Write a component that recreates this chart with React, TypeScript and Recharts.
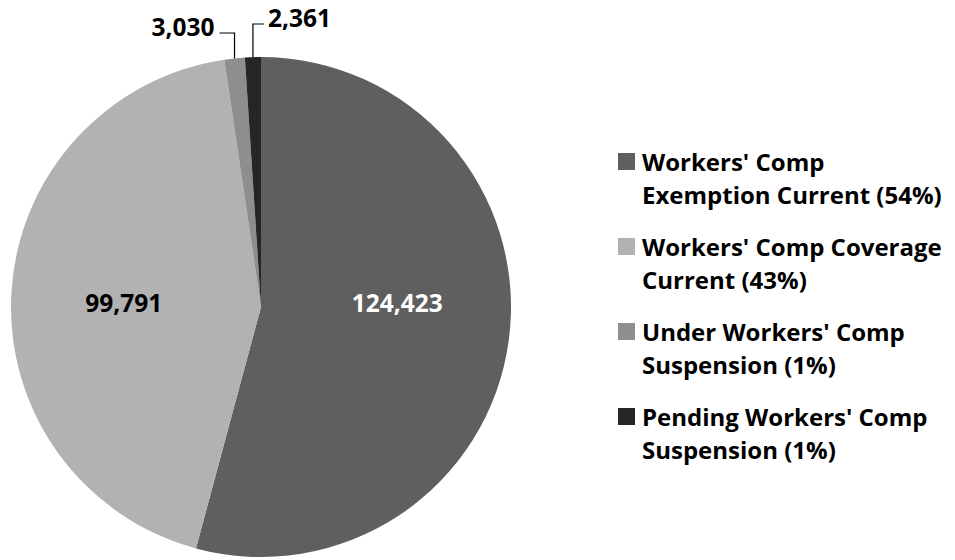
import { PieChart, Pie, Cell, Legend } from "recharts";

const NAMES = [
  "Workers' Comp Exemption Current",
  "Workers' Comp Coverage Current",
  "Under Workers' Comp Suspension",
  "Pending Workers' Comp Suspension",
];
const VALUES = [124423, 99791, 3030, 2361];
const COLORS = ["#5f5f5f", "#b2b2b2", "#8e8e8e", "#262626"];

const FONT = "'Open Sans', Lato, sans-serif";
const TOTAL = VALUES.reduce((s, v) => s + v, 0);
const data = NAMES.map((name, i) => ({ name, value: VALUES[i] }));

const RAD = Math.PI / 180;

function renderLabel(p: any) {
  const { cx, cy, midAngle, outerRadius, percent, value, index } = p;
  const cos = Math.cos(-midAngle * RAD);
  const sin = Math.sin(-midAngle * RAD);
  const text = Number(value).toLocaleString("en-US");
  if (percent > 0.05) {
    // big slices: value inside, on the row through the centre
    const x = cx + outerRadius * 0.55 * cos;
    return (
      <text
        x={x} y={cy - 5} textAnchor="middle" dominantBaseline="central"
        fill={index === 0 ? "#ffffff" : "#000000"}
        fontFamily={FONT} fontWeight={700} fontSize={24.5}
      >
        {text}
      </text>
    );
  }
  // small slices: elbow leader up then sideways
  const sx = cx + outerRadius * cos;
  const sy = cy + outerRadius * sin;
  const left = sx < cx - 15;
  const ey = cy - outerRadius - (left ? 24 : 33);
  const ex = sx + (left ? -15 : 11);
  return (
    <g>
      <polyline
        points={`${sx},${sy} ${sx},${ey} ${ex},${ey}`}
        stroke="#000" strokeWidth={1.2} fill="none"
      />
      <text
        x={ex + (left ? -5 : 4)} y={ey - 7}
        textAnchor={left ? "end" : "start"} dominantBaseline="central"
        fill="#000" fontFamily={FONT} fontWeight={700} fontSize={24.5}
      >
        {text}
      </text>
    </g>
  );
}

function LegendBox() {
  return (
    <div style={{ fontFamily: FONT, fontWeight: 700, fontSize: 24, lineHeight: "33px", color: "#000" }}>
      {NAMES.map((n, i) => (
        <div key={n} style={{ display: "flex", alignItems: "flex-start", marginBottom: 19 }}>
          <div style={{ width: 17, height: 17, background: COLORS[i], marginTop: 8, marginRight: 7, flex: "none" }} />
          <div style={{ width: 308 }}>
            {`${n} (${Math.round((VALUES[i] / TOTAL) * 100)}%)`}
          </div>
        </div>
      ))}
    </div>
  );
}

export default function App() {
  return (
    <div style={{ position: "absolute", left: 0, top: 0, width: 955, height: 560, background: "#fff" }}>
      <PieChart width={955} height={560} margin={{ top: 0, right: 0, bottom: 0, left: 0 }}>
        <Pie
          data={data} dataKey="value" nameKey="name"
          cx={261} cy={307} outerRadius={250}
          startAngle={90} endAngle={-270}
          stroke="none" label={renderLabel} labelLine={false}
          isAnimationActive={false}
        >
          {data.map((_, i) => (
            <Cell key={i} fill={COLORS[i]} />
          ))}
        </Pie>
        <Legend
          layout="vertical"
          content={() => <LegendBox />}
          wrapperStyle={{ position: "absolute", left: 618, top: 145, width: 337 }}
        />
      </PieChart>
    </div>
  );
}
